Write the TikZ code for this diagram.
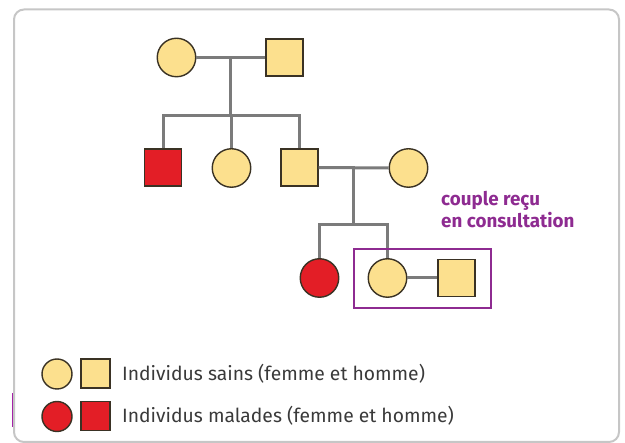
\documentclass[tikz,border=0pt]{standalone}
\usepackage{fontspec}
\setmainfont{Fira Sans}
\usetikzlibrary{positioning}

\definecolor{jaune}{HTML}{FCE08E}
\definecolor{rouge}{HTML}{E31E26}
\definecolor{contour}{HTML}{3A3224}
\definecolor{gristrait}{HTML}{7B7B7B}
\definecolor{violet}{HTML}{8E2B91}
\definecolor{griscadre}{HTML}{C6C6C6}
\definecolor{texte}{HTML}{3A3A3A}

\tikzset{
  femme/.style={circle, draw=contour, line width=1.4pt, minimum size=38.5pt, inner sep=0pt},
  homme/.style={rectangle, draw=contour, line width=1.4pt, minimum size=37pt, inner sep=0pt},
  sain/.style={fill=jaune},
  malade/.style={fill=rouge},
  lien/.style={draw=gristrait, line width=3pt},
  legende/.style={anchor=west, text=texte, font=\fontsize{19.3}{21}\selectfont, inner sep=0pt},
  consult/.style={anchor=base west, inner sep=0pt, text=violet, font=\bfseries\fontsize{18.8}{20}\selectfont},
}

\begin{document}
\begin{tikzpicture}[x=1pt, y=-1pt]

\useasboundingbox (0,0) rectangle (625,443);

% cadre
\draw[griscadre, line width=2pt, rounded corners=10pt] (14,9.5) rectangle (619,442);
\draw[violet!80!magenta, line width=1.5pt] (12.5,393) -- (12.5,427);

% generation I
\node[femme,sain] (gm) at (176.5,57.5) {};
\node[homme,sain] (gp) at (284.5,57.5) {};
\coordinate (u1) at (230,57.5);
\coordinate (fr1) at (230,116);

% generation II
\node[homme,malade] (f1) at (163,167.5) {};
\node[femme,sain] (f2) at (231.5,168) {};
\node[homme,sain] (f3) at (299.5,167.5) {};
\node[femme,sain] (ep) at (408.5,168) {};
\coordinate (u2) at (353,168);
\coordinate (fr2) at (353,225);

% generation III
\node[femme,malade] (s1) at (319.5,278) {};
\node[femme,sain] (cf) at (387.5,278) {};
\node[homme,sain] (ch) at (456.5,278) {};

% liens
\draw[lien] (gm) -- (gp);
\draw[lien] (u1) -- (fr1);
\draw[lien] (f1.north) -- (f1.north|-fr1) -- (f3.north|-fr1) -- (f3.north);
\draw[lien] (f2.north) -- (f2.north|-fr1);
\draw[lien] (f3) -- (ep);
\draw[lien] (u2) -- (fr2);
\draw[lien] (s1.north) -- (s1.north|-fr2) -- (cf.north|-fr2) -- (cf.north);
\draw[lien] (cf) -- (ch);

% couple recu en consultation
\draw[violet, line width=2.7pt] (354,249) rectangle (491,308);
\node[consult] (t1) at (441,206) {couple reçu};
\node[consult] (t2) at (441,228) {en consultation};

% legende
\node[femme,sain,minimum size=30pt] (lf1) at (57,374) {};
\node[homme,sain,minimum size=29pt] (lh1) at (95.5,373.5) {};
\node[legende] (lt1) at (122,374) {Individus sains (femme et homme)};
\node[femme,malade,minimum size=30pt] (lf2) at (57,416.5) {};
\node[homme,malade,minimum size=29pt] (lh2) at (95.5,416) {};
\node[legende] (lt2) at (122,416) {Individus malades (femme et homme)};

\end{tikzpicture}
\end{document}
